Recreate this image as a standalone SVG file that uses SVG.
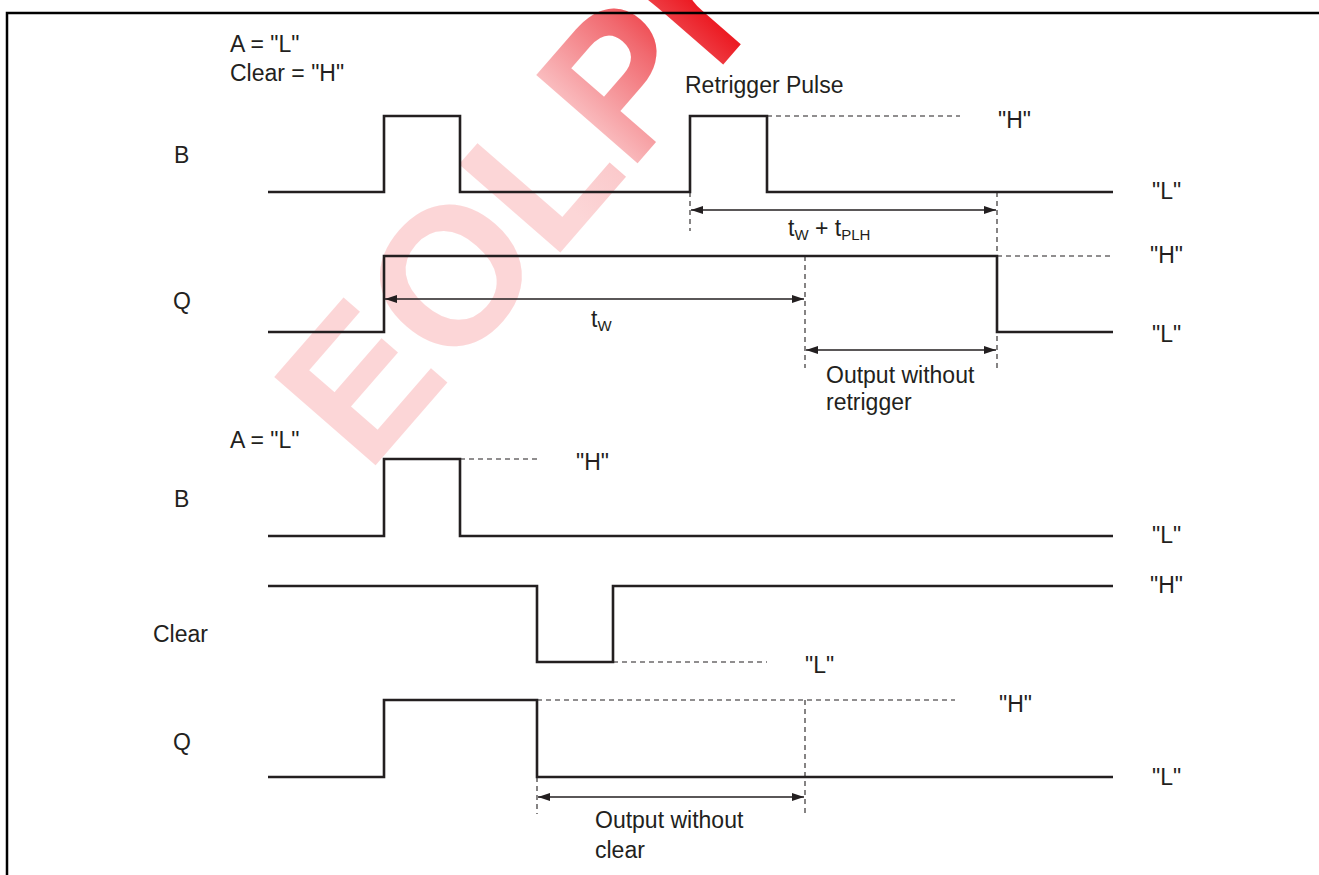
<svg xmlns="http://www.w3.org/2000/svg" width="1319" height="875" viewBox="0 0 1319 875">
<defs>
<style>
.t{font-family:"Liberation Sans",Arial,Helvetica,sans-serif;font-size:23px;fill:#231f20}
.sub{font-size:15px}
.w{fill:none;stroke:#231f20;stroke-width:2.6;stroke-linejoin:miter;stroke-linecap:butt}
.d{fill:none;stroke:#231f20;stroke-width:1.1;stroke-dasharray:5 4}
.a{fill:none;stroke:#231f20;stroke-width:1.3}
.wm{font-family:"Liberation Sans",Arial,sans-serif;font-weight:bold;font-size:195px;fill:#ffffff}
</style>
<marker id="ah" viewBox="0 0 12 8" refX="12" refY="4" markerWidth="12" markerHeight="8" markerUnits="userSpaceOnUse" orient="auto-start-reverse">
<path d="M0,0 L12,4 L0,8 z" fill="#231f20"/>
</marker>
<linearGradient id="wmg" gradientUnits="userSpaceOnUse" x1="690" y1="0" x2="530" y2="170">
<stop offset="0" stop-color="#ec1c24"/>
<stop offset="0.3" stop-color="#f16a70"/>
<stop offset="0.75" stop-color="#fbcacc"/>
<stop offset="1" stop-color="#fcd6d7"/>
</linearGradient>
<mask id="wmask" maskUnits="userSpaceOnUse" x="0" y="0" width="1319" height="875">
<text class="wm" x="0" y="0" transform="translate(367,475) rotate(-49)">EOL</text>
<text class="wm" x="0" y="0" transform="translate(629,173) rotate(-49)">Pro</text>
</mask>
</defs>
<rect width="1319" height="875" fill="#ffffff"/>
<g id="watermark">
<rect x="0" y="0" width="1319" height="875" fill="url(#wmg)" mask="url(#wmask)"/>
</g>
<rect id="frame" x="7" y="13" width="1330" height="880" fill="none" stroke="#000" stroke-width="2.5"/>
<g id="connectors">
<line class="d" x1="767" y1="116" x2="960" y2="116"/>
<line class="d" x1="690" y1="192" x2="690" y2="231"/>
<line class="d" x1="997" y1="192" x2="997" y2="372"/>
<line class="d" x1="997" y1="256" x2="1110" y2="256"/>
<line class="d" x1="805" y1="256" x2="805" y2="368"/>
<line class="d" x1="460" y1="459" x2="538" y2="459"/>
<line class="d" x1="613" y1="662" x2="767" y2="662"/>
<line class="d" x1="537" y1="700" x2="955" y2="700"/>
<line class="d" x1="805" y1="700" x2="805" y2="813"/>
<line class="d" x1="537" y1="777" x2="537" y2="814"/>
<line class="a" x1="691" y1="210" x2="996" y2="210" marker-start="url(#ah)" marker-end="url(#ah)"/>
<line class="a" x1="385" y1="299" x2="804" y2="299" marker-start="url(#ah)" marker-end="url(#ah)"/>
<line class="a" x1="806" y1="350" x2="996" y2="350" marker-start="url(#ah)" marker-end="url(#ah)"/>
<line class="a" x1="538" y1="797" x2="804" y2="797" marker-start="url(#ah)" marker-end="url(#ah)"/>
</g>
<g id="wave-b1"><polyline class="w" points="268,192 384,192 384,116 460,116 460,192 690,192 690,116 767,116 767,192 1113,192"/></g>
<g id="wave-q1"><polyline class="w" points="268,332 384,332 384,256 997,256 997,332 1113,332"/></g>
<g id="wave-b2"><polyline class="w" points="268,536 384,536 384,459 460,459 460,536 1113,536"/></g>
<g id="wave-clear"><polyline class="w" points="268,586 537,586 537,662 613,662 613,586 1113,586"/></g>
<g id="wave-q2"><polyline class="w" points="268,777 384,777 384,700 537,700 537,777 1113,777"/></g>
<g id="labels">
<text class="t" x="230" y="52">A = "L"</text>
<text class="t" x="230" y="81">Clear = "H"</text>
<text class="t" x="174" y="163">B</text>
<text class="t" x="173" y="309">Q</text>
<text class="t" x="685" y="93">Retrigger Pulse</text>
<text class="t" x="998" y="128">"H"</text>
<text class="t" x="1152" y="199">"L"</text>
<text class="t" x="788" y="236">t<tspan class="sub" dy="4">W</tspan><tspan dy="-4"> + t</tspan><tspan class="sub" dy="4">PLH</tspan></text>
<text class="t" x="1150" y="263">"H"</text>
<text class="t" x="591" y="327">t<tspan class="sub" dy="4">W</tspan></text>
<text class="t" x="1152" y="342">"L"</text>
<text class="t" x="826" y="383">Output without</text>
<text class="t" x="826" y="410">retrigger</text>
<text class="t" x="230" y="448">A = "L"</text>
<text class="t" x="174" y="507">B</text>
<text class="t" x="576" y="470">"H"</text>
<text class="t" x="1152" y="543">"L"</text>
<text class="t" x="1150" y="593">"H"</text>
<text class="t" x="153" y="642">Clear</text>
<text class="t" x="805" y="673">"L"</text>
<text class="t" x="173" y="750">Q</text>
<text class="t" x="999" y="712">"H"</text>
<text class="t" x="1152" y="785">"L"</text>
<text class="t" x="595" y="828">Output without</text>
<text class="t" x="595" y="858">clear</text>
</g>
</svg>
